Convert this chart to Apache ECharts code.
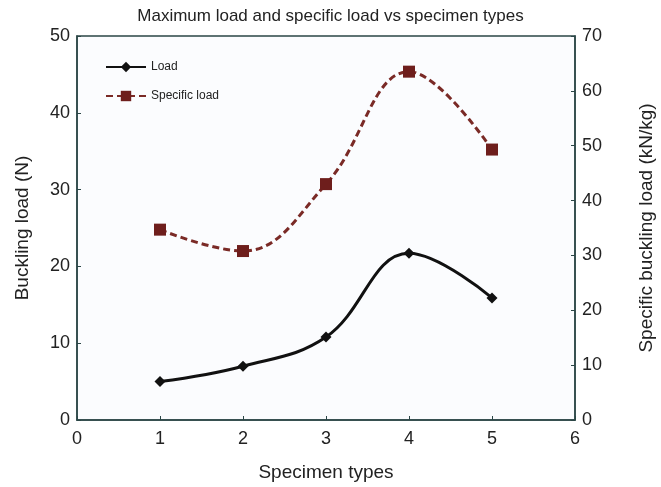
<!DOCTYPE html>
<html>
<head>
<meta charset="utf-8">
<script src="https://cdn.jsdelivr.net/npm/echarts@6/dist/echarts.min.js"></script>
<style>
html, body { margin: 0; padding: 0; background: #fff; }
#chart { width: 661px; height: 487px; }
</style>
</head>
<body>
<div id="chart"></div>
<script>
"use strict";

/*-----data-----*/
var specimenTypes = [1, 2, 3, 4, 5];
var loadValues = [5.0, 7.0, 10.8, 21.7, 15.9];
var specificLoadValues = [34.7, 30.8, 43.0, 63.5, 49.3];

function pairs(xs, ys) {
	return xs.map(function (x, i) { return [x, ys[i]]; });
}

var font = 'Liberation Sans, Arial, sans-serif';
var frameColor = '#2b4646';

var chart = echarts.init(document.getElementById('chart'));
var option = {
	animation: false,
	backgroundColor: '#ffffff',
	title: {
		text: 'Maximum load and specific load vs specimen types',
		left: 'center',
		top: 3,
		textStyle: {
			fontFamily: font,
			fontSize: 17,
			fontWeight: 'normal',
			color: '#222'
		}
	},
	grid: {
		left: 77,
		right: 86,
		top: 36,
		bottom: 67,
		outerBoundsMode: 'none',
		show: true,
		backgroundColor: '#fbfcfe',
		borderColor: frameColor,
		borderWidth: 1.5
	},
	legend: {
		orient: 'vertical',
		left: 100,
		top: 56,
		itemWidth: 40,
		itemHeight: 13,
		itemGap: 17,
		textStyle: {
			fontFamily: font,
			fontSize: 12,
			color: '#222'
		},
		data: ['Load', 'Specific load']
	},
	xAxis: {
		type: 'value',
		min: 0,
		max: 6,
		interval: 1,
		name: 'Specimen types',
		nameLocation: 'middle',
		nameGap: 43,
		nameTextStyle: { fontFamily: font, fontSize: 19, color: '#222' },
		axisLine: { lineStyle: { color: frameColor, width: 1.5 } },
		axisTick: { inside: true, length: 4, lineStyle: { color: frameColor } },
		axisLabel: { fontFamily: font, fontSize: 18, color: '#222', margin: 10 },
		splitLine: { show: false }
	},
	yAxis: [{
		type: 'value',
		min: 0,
		max: 50,
		interval: 10,
		name: 'Buckling load (N)',
		nameLocation: 'middle',
		nameGap: 45,
		nameTextStyle: { fontFamily: font, fontSize: 19, color: '#222' },
		axisLine: { show: true, lineStyle: { color: frameColor, width: 1.5 } },
		axisTick: { show: true, inside: true, length: 4, lineStyle: { color: frameColor } },
		axisLabel: { fontFamily: font, fontSize: 18, color: '#222', margin: 7 },
		splitLine: { show: false }
	}, {
		type: 'value',
		min: 0,
		max: 70,
		interval: 10,
		position: 'right',
		name: 'Specific buckling load (kN/kg)',
		nameLocation: 'middle',
		nameGap: 62,
		nameTextStyle: { fontFamily: font, fontSize: 19, color: '#222' },
		axisLine: { show: true, lineStyle: { color: frameColor, width: 1.5 } },
		axisTick: { show: true, inside: true, length: 4, lineStyle: { color: frameColor } },
		axisLabel: { fontFamily: font, fontSize: 18, color: '#222', margin: 7 },
		splitLine: { show: false }
	}],
	series: [{
		name: 'Load',
		type: 'line',
		yAxisIndex: 0,
		smooth: 0.4,
		symbol: 'diamond',
		symbolSize: 11,
		itemStyle: { color: '#111' },
		lineStyle: { color: '#111', width: 3 },
		data: pairs(specimenTypes, loadValues)
	}, {
		name: 'Specific load',
		type: 'line',
		yAxisIndex: 1,
		smooth: 0.4,
		symbol: 'rect',
		symbolSize: 12,
		itemStyle: { color: '#6e1e1c' },
		lineStyle: { color: '#7a2a26', width: 3, type: [7, 4] },
		data: pairs(specimenTypes, specificLoadValues)
	}]
};
chart.setOption(option);
</script>
</body>
</html>
